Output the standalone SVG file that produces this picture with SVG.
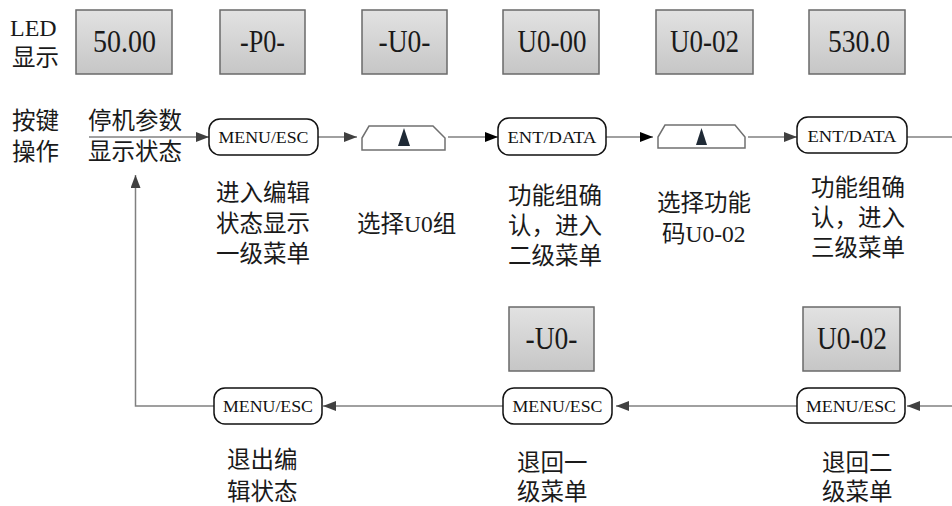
<svg xmlns="http://www.w3.org/2000/svg" width="952" height="506" viewBox="0 0 952 506">
<style>
.bg{fill:#ffffff}
.led{fill:url(#ledg);stroke:#6a6a6a;stroke-width:1.5}
.ledt{font-family:"Liberation Serif","Times New Roman",serif;font-size:31px;fill:#1a1a1a;text-anchor:middle}
.btn{fill:#ffffff;stroke:#111111;stroke-width:1.5}
.btnt{font-family:"Liberation Serif",serif;font-size:17px;fill:#111111;text-anchor:middle}
.key{fill:#ffffff;stroke:#707070;stroke-width:1.5}
.tri{fill:#1f2a36}
.lbl{font-family:"Liberation Serif","Noto Sans CJK SC",serif;font-size:23.5px;fill:#1a1a1a}
.lat{font-family:"Liberation Serif",serif;font-size:24px;fill:#1a1a1a}
.con{fill:none;stroke:#808080;stroke-width:1.5}
</style>
<defs>
<linearGradient id="ledg" x1="0" y1="0" x2="0" y2="1">
<stop offset="0" stop-color="#e2e2e2"/>
<stop offset="1" stop-color="#c6c6c6"/>
</linearGradient>
<marker id="ag" viewBox="0 0 13 10" refX="13" refY="5" markerWidth="13" markerHeight="10" markerUnits="userSpaceOnUse" orient="auto">
<path d="M0,0 L13,5 L0,10 z" fill="#404040"/>
</marker>
<marker id="ab" viewBox="0 0 13 10" refX="13" refY="5" markerWidth="13" markerHeight="10" markerUnits="userSpaceOnUse" orient="auto">
<path d="M0,0 L13,5 L0,10 z" fill="#000000"/>
</marker>
</defs>
<rect class="bg" x="0" y="0" width="952" height="506"/>

<g id="row-labels">
<text class="lat" x="10" y="36">LED</text>
<text class="lbl" x="12" y="66">显示</text>
<text class="lbl" x="12" y="129">按键</text>
<text class="lbl" x="12" y="160">操作</text>
<text class="lbl" x="88" y="129">停机参数</text>
<text class="lbl" x="88" y="160">显示状态</text>
</g>

<g id="connectors">
<path class="con" d="M89,137 H209" marker-end="url(#ag)"/>
<path class="con" d="M318,137 H357" marker-end="url(#ag)"/>
<path class="con" d="M448,137 H498" marker-end="url(#ab)"/>
<path class="con" d="M606,137 H653" marker-end="url(#ab)"/>
<path class="con" d="M748,137 H797" marker-end="url(#ag)"/>
<path class="con" d="M907,137 H952"/>
<path class="con" d="M952,406 H907" marker-end="url(#ag)"/>
<path class="con" d="M797,406 H616" marker-end="url(#ag)"/>
<path class="con" d="M503,406 H323" marker-end="url(#ag)"/>
<path class="con" d="M214,406 H135.5 V175" marker-end="url(#ag)"/>
</g>

<g id="led-1"><rect class="led" x="76" y="10" width="96" height="64"/><text class="ledt" x="124.5" y="52" textLength="63" lengthAdjust="spacingAndGlyphs">50.00</text></g>
<g id="led-2"><rect class="led" x="220" y="10" width="85" height="64"/><text class="ledt" x="262.5" y="52" textLength="45" lengthAdjust="spacingAndGlyphs">-P0-</text></g>
<g id="led-3"><rect class="led" x="362" y="10" width="85" height="64"/><text class="ledt" x="404.5" y="52" textLength="52" lengthAdjust="spacingAndGlyphs">-U0-</text></g>
<g id="led-4"><rect class="led" x="503" y="10" width="96" height="64"/><text class="ledt" x="552" y="52" textLength="69" lengthAdjust="spacingAndGlyphs">U0-00</text></g>
<g id="led-5"><rect class="led" x="656" y="10" width="97" height="64"/><text class="ledt" x="704.5" y="52" textLength="69" lengthAdjust="spacingAndGlyphs">U0-02</text></g>
<g id="led-6"><rect class="led" x="809" y="10" width="96" height="64"/><text class="ledt" x="859" y="52" textLength="62" lengthAdjust="spacingAndGlyphs">530.0</text></g>
<g id="led-7"><rect class="led" x="509" y="307" width="85" height="64"/><text class="ledt" x="551.5" y="349" textLength="52" lengthAdjust="spacingAndGlyphs">-U0-</text></g>
<g id="led-8"><rect class="led" x="803" y="307" width="97" height="64"/><text class="ledt" x="852" y="349" textLength="70" lengthAdjust="spacingAndGlyphs">U0-02</text></g>

<g id="btn-menu-1"><rect class="btn" x="209" y="119" width="109" height="36" rx="11"/><text class="btnt" x="263.5" y="143" textLength="90" lengthAdjust="spacingAndGlyphs">MENU/ESC</text></g>
<g id="key-up-1"><path class="key" d="M369,126 H433 L445,138 V150 H362 V138 Z"/><path class="tri" d="M404,128 L410,146 H398 Z"/></g>
<g id="btn-ent-1"><rect class="btn" x="498" y="118" width="108" height="37" rx="11"/><text class="btnt" x="552" y="143" textLength="89" lengthAdjust="spacingAndGlyphs">ENT/DATA</text></g>
<g id="key-up-2"><path class="key" d="M665,125 H735 L745,137 V148 H658 V137 Z"/><path class="tri" d="M701.5,128 L707,145 H696 Z"/></g>
<g id="btn-ent-2"><rect class="btn" x="797" y="117" width="110" height="36" rx="11"/><text class="btnt" x="852" y="142" textLength="89" lengthAdjust="spacingAndGlyphs">ENT/DATA</text></g>
<g id="btn-menu-2"><rect class="btn" x="214" y="388" width="108" height="36" rx="11"/><text class="btnt" x="268" y="412" textLength="90" lengthAdjust="spacingAndGlyphs">MENU/ESC</text></g>
<g id="btn-menu-3"><rect class="btn" x="503" y="388" width="109" height="36" rx="11"/><text class="btnt" x="557.5" y="412" textLength="90" lengthAdjust="spacingAndGlyphs">MENU/ESC</text></g>
<g id="btn-menu-4"><rect class="btn" x="797" y="388" width="108" height="35" rx="11"/><text class="btnt" x="851" y="411.5" textLength="90" lengthAdjust="spacingAndGlyphs">MENU/ESC</text></g>

<g id="desc-1"><text class="lbl" x="216" y="201">进入编辑</text><text class="lbl" x="216" y="232">状态显示</text><text class="lbl" x="216" y="262">一级菜单</text></g>
<g id="desc-2"><text class="lbl" x="357" y="232">选择U0组</text></g>
<g id="desc-3"><text class="lbl" x="508" y="204">功能组确</text><text class="lbl" x="508" y="234">认，进入</text><text class="lbl" x="508" y="264">二级菜单</text></g>
<g id="desc-4"><text class="lbl" x="657" y="211">选择功能</text><text class="lbl" x="662" y="242">码U0-02</text></g>
<g id="desc-5"><text class="lbl" x="811" y="196">功能组确</text><text class="lbl" x="811" y="226">认，进入</text><text class="lbl" x="811" y="256">三级菜单</text></g>
<g id="desc-6"><text class="lbl" x="227" y="468">退出编</text><text class="lbl" x="227" y="500">辑状态</text></g>
<g id="desc-7"><text class="lbl" x="517" y="471">退回一</text><text class="lbl" x="517" y="500">级菜单</text></g>
<g id="desc-8"><text class="lbl" x="822" y="471">退回二</text><text class="lbl" x="822" y="500">级菜单</text></g>
</svg>
